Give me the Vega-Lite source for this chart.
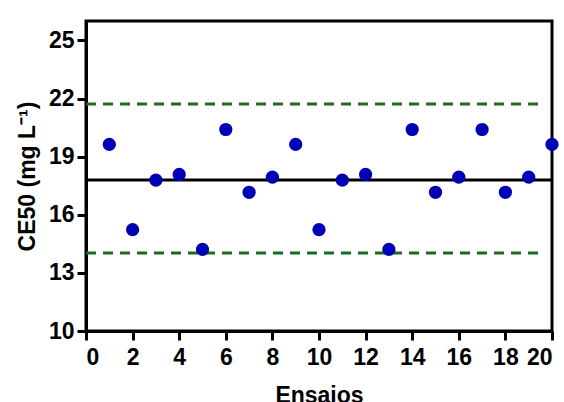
{
  "$schema": "https://vega.github.io/schema/vega-lite/v6.json",
  "width": 466,
  "height": 310,
  "autosize": {"type": "none"},
  "padding": {"left": 86, "top": 21, "right": 12, "bottom": 71},
  "background": "white",
  "config": {
    "view": {"stroke": "black", "strokeWidth": 3},
    "axis": {
      "grid": false,
      "domainColor": "black",
      "domainWidth": 3,
      "tickColor": "black",
      "tickWidth": 3,
      "tickSize": 9,
      "labelFont": "Liberation Sans",
      "labelFontWeight": "bold",
      "labelFontSize": 23,
      "labelColor": "black",
      "titleFont": "Liberation Sans",
      "titleFontWeight": "bold",
      "titleFontSize": 23,
      "titleColor": "black"
    }
  },
  "datasets": {
    "pts": [
      {"ensaio": 1, "ce50": 19.63},
      {"ensaio": 2, "ce50": 15.23},
      {"ensaio": 3, "ce50": 17.79},
      {"ensaio": 4, "ce50": 18.08},
      {"ensaio": 5, "ce50": 14.21},
      {"ensaio": 6, "ce50": 20.4},
      {"ensaio": 7, "ce50": 17.16},
      {"ensaio": 8, "ce50": 17.94},
      {"ensaio": 9, "ce50": 19.63},
      {"ensaio": 10, "ce50": 15.23},
      {"ensaio": 11, "ce50": 17.79},
      {"ensaio": 12, "ce50": 18.08},
      {"ensaio": 13, "ce50": 14.21},
      {"ensaio": 14, "ce50": 20.4},
      {"ensaio": 15, "ce50": 17.16},
      {"ensaio": 16, "ce50": 17.94},
      {"ensaio": 17, "ce50": 20.4},
      {"ensaio": 18, "ce50": 17.16},
      {"ensaio": 19, "ce50": 17.94},
      {"ensaio": 20, "ce50": 19.63}
    ],
    "limits": [
      {"y": 21.71, "x1": 0, "x2": 19.7},
      {"y": 14.02, "x1": 0, "x2": 19.7}
    ],
    "mean": [
      {"y": 17.8, "x1": 0, "x2": 20}
    ]
  },
  "layer": [
    {
      "data": {"name": "mean"},
      "mark": {"type": "rule", "color": "black", "strokeWidth": 3},
      "encoding": {
        "x": {"field": "x1", "type": "quantitative", "scale": {"domain": [0, 20]},
              "axis": {"values": [0,2,4,6,8,10,12,14,16,18,20], "title": "Ensaios", "labelPadding": 6, "titlePadding": 15}},
        "x2": {"field": "x2"},
        "y": {"field": "y", "type": "quantitative", "scale": {"domain": [10, 25]},
              "axis": {"values": [10,13,16,19,22,25], "title": "CE50 (mg L⁻¹)", "labelPadding": 3, "titlePadding": 9}}
      }
    },
    {
      "data": {"name": "limits"},
      "mark": {"type": "rule", "color": "#1e6b1e", "strokeWidth": 3, "strokeDash": [10, 7]},
      "encoding": {
        "x": {"field": "x1", "type": "quantitative"},
        "x2": {"field": "x2"},
        "y": {"field": "y", "type": "quantitative"}
      }
    },
    {
      "data": {"name": "pts"},
      "mark": {"type": "point", "filled": true, "shape": "circle", "size": 175, "color": "#0000b4", "opacity": 1, "clip": false},
      "encoding": {
        "x": {"field": "ensaio", "type": "quantitative"},
        "y": {"field": "ce50", "type": "quantitative"}
      }
    }
  ]
}
